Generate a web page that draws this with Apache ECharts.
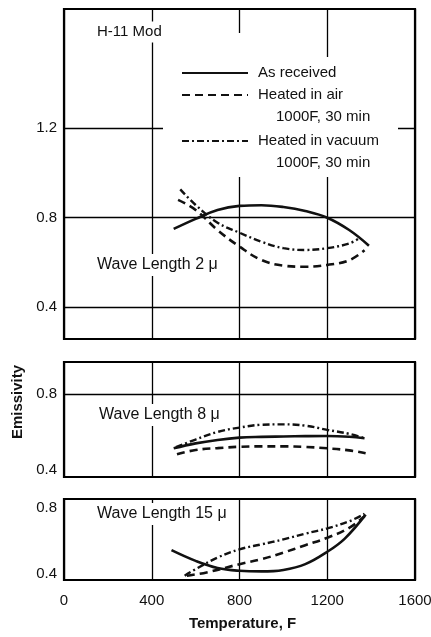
<!DOCTYPE html>
<html>
<head>
<meta charset="utf-8">
<script src="https://cdn.jsdelivr.net/npm/echarts@6/dist/echarts.min.js"></script>
<style>
  html, body { margin: 0; padding: 0; background: #fff; }
  #chart { width: 431px; height: 637px; }
</style>
</head>
<body>
<div id="chart"></div>
<script>
// Emissivity of H-11 Mod steel vs temperature at three wave lengths

const seriesNames = ['As received', 'Heated in air', 'Heated in vacuum'];
const panelTitles = ['Wave Length 2 \u03bc', 'Wave Length 8 \u03bc', 'Wave Length 15 \u03bc'];
const xTicks = [0, 400, 800, 1200, 1600];

// Wave length 2 μ
const t2Received = [500, 600, 700, 800, 900, 1000, 1100, 1200, 1300, 1390];
const e2Received = [0.75, 0.795, 0.835, 0.853, 0.856, 0.848, 0.83, 0.80, 0.745, 0.675];
const t2Air = [520, 600, 700, 800, 900, 1000, 1100, 1200, 1300, 1370];
const e2Air = [0.88, 0.835, 0.745, 0.671, 0.611, 0.586, 0.581, 0.589, 0.61, 0.655];
const t2Vacuum = [530, 600, 700, 800, 900, 1000, 1100, 1200, 1300, 1340];
const e2Vacuum = [0.927, 0.857, 0.778, 0.733, 0.693, 0.664, 0.656, 0.664, 0.685, 0.705];

// Wave length 8 μ
const t8Received = [500, 600, 700, 800, 900, 1000, 1100, 1200, 1300, 1370];
const e8Received = [0.514, 0.54, 0.558, 0.57, 0.574, 0.576, 0.578, 0.579, 0.575, 0.567];
const t8Air = [515, 600, 700, 800, 900, 1000, 1100, 1200, 1300, 1375];
const e8Air = [0.483, 0.505, 0.515, 0.522, 0.524, 0.524, 0.521, 0.514, 0.503, 0.488];
const t8Vacuum = [510, 600, 700, 800, 900, 1000, 1100, 1200, 1300, 1370];
const e8Vacuum = [0.52, 0.56, 0.60, 0.623, 0.638, 0.64, 0.633, 0.611, 0.59, 0.567];

// Wave length 15 μ
const t15Received = [490, 600, 700, 800, 900, 1000, 1100, 1200, 1280, 1375];
const e15Received = [0.545, 0.48, 0.437, 0.42, 0.416, 0.425, 0.46, 0.535, 0.615, 0.76];
const t15Air = [560, 650, 800, 900, 1000, 1100, 1200, 1300, 1370];
const e15Air = [0.39, 0.41, 0.46, 0.49, 0.53, 0.575, 0.62, 0.68, 0.75];
const t15Vacuum = [550, 600, 700, 800, 900, 1000, 1100, 1200, 1300, 1370];
const e15Vacuum = [0.39, 0.43, 0.50, 0.55, 0.58, 0.61, 0.645, 0.677, 0.72, 0.765];

// y tick labels and horizontal rules for each panel
const yLabels = [[0.4, 0.8, 1.2], [0.4, 0.8], [0.4, 0.8]];
const yRules = [[0.4, 0.8, 1.2], [0.8], []];
const yMin = [0.258, 0.363, 0.364];
const yMax = [1.733, 0.968, 0.855];

const panels = [
  [[t2Received, e2Received], [t2Air, e2Air], [t2Vacuum, e2Vacuum]],
  [[t8Received, e8Received], [t8Air, e8Air], [t8Vacuum, e8Vacuum]],
  [[t15Received, e15Received], [t15Air, e15Air], [t15Vacuum, e15Vacuum]]
];

const FONT = '"Liberation Sans", Arial, Helvetica, sans-serif';
const INK = '#111';
const lineStyles = [
  { type: 'solid', width: 2.6 },
  { type: [8, 5], width: 2.6 },
  { type: [7, 3, 2, 3], width: 2.4 }
];

const grids = [
  { left: 64, right: 16, top: 9, height: 330 },
  { left: 64, right: 16, top: 362, height: 115 },
  { left: 64, right: 16, top: 499, height: 81 }
].map(g => Object.assign(g, {
  show: true, borderColor: '#000', borderWidth: 2.2,
  containLabel: false, outerBoundsMode: 'none'
}));

const xAxes = grids.map((g, i) => ({
  type: 'value', gridIndex: i, min: 0, max: 1600, interval: 400,
  axisLine: { show: false }, axisTick: { show: false },
  splitLine: { show: true, lineStyle: { color: '#000', width: 1.3 } },
  axisLabel: {
    show: i === 2, margin: 13, color: INK, fontFamily: FONT, fontSize: 15,
    customValues: xTicks, formatter: v => String(v)
  },
  name: i === 2 ? 'Temperature, F' : '',
  nameLocation: 'middle', nameGap: 36,
  nameTextStyle: { color: INK, fontFamily: FONT, fontSize: 15, fontWeight: 'bold', padding: [0, 0, 0, 6] }
}));

const yAxes = grids.map((g, i) => ({
  type: 'value', gridIndex: i, min: yMin[i], max: yMax[i],
  axisLine: { show: false }, axisTick: { show: false }, splitLine: { show: false },
  axisLabel: {
    color: INK, fontFamily: FONT, fontSize: 15, margin: 7,
    customValues: yLabels[i],
    formatter: v => v.toFixed(1)
  }
}));

const series = [];
panels.forEach((curves, p) => {
  curves.forEach(([ts, es], k) => {
    const s = {
      name: seriesNames[k], type: 'line', xAxisIndex: p, yAxisIndex: p,
      data: ts.map((t, j) => [t, es[j]]),
      smooth: 0.4, symbol: 'none', silent: true,
      lineStyle: Object.assign({ color: INK, cap: 'butt' }, lineStyles[k]),
      itemStyle: { color: INK },
      z: 3
    };
    if (k === 0 && yRules[p].length) {
      s.markLine = {
        silent: true, symbol: ['none', 'none'], label: { show: false },
        lineStyle: { color: '#000', type: 'solid', width: 1.3 },
        data: yRules[p].map(v => ({ yAxis: v })), z: 1
      };
    }
    series.push(s);
  });
});

const legendBase = {
  orient: 'vertical', left: 181, padding: 0, z: 6,
  itemWidth: 66, itemHeight: 16, itemGap: 6, selectedMode: false,
  itemStyle: { opacity: 0, borderWidth: 0 },
  textStyle: { color: INK, fontFamily: FONT, fontSize: 15, lineHeight: 16, padding: [0, 0, 0, 5] }
};

// plain annotation text with a white backing that interrupts the rules behind it
const note = (x, y, text, size) => ({
  type: 'text', x, y, silent: true, z: 7,
  style: {
    text, fill: INK, font: (size || 15) + 'px ' + FONT, verticalAlign: 'middle',
    backgroundColor: '#fff', padding: [3, 3, 3, 3]
  }
});

const option = {
  animation: false,
  backgroundColor: '#fff',
  grid: grids,
  xAxis: xAxes,
  yAxis: yAxes,
  legend: [
    Object.assign({}, legendBase, { data: [seriesNames[0], seriesNames[1]], top: 65 }),
    Object.assign({}, legendBase, { data: [seriesNames[2]], top: 133 })
  ],
  graphic: [
    // blank patch behind the key
    { type: 'rect', silent: true, z: 5, shape: { x: 163, y: 57, width: 235, height: 120 }, style: { fill: '#fff' } },
    { type: 'rect', silent: true, z: 5, shape: { x: 232, y: 33, width: 16, height: 26 }, style: { fill: '#fff' } },
    note(94, 32, 'H-11 Mod'),
    note(273, 117, '1000F, 30 min'),
    note(273, 163, '1000F, 30 min'),
    note(94, 265, panelTitles[0], 16),
    note(96, 415, panelTitles[1], 16),
    note(94, 514, panelTitles[2], 16),
    {
      type: 'text', x: 18, y: 402, rotation: Math.PI / 2, silent: true,
      style: { text: 'Emissivity', fill: INK, font: 'bold 15px ' + FONT, align: 'center', verticalAlign: 'middle' }
    }
  ],
  series
};

const chart = echarts.init(document.getElementById('chart'), null, { renderer: 'canvas' });
chart.setOption(option);
</script>
</body>
</html>
